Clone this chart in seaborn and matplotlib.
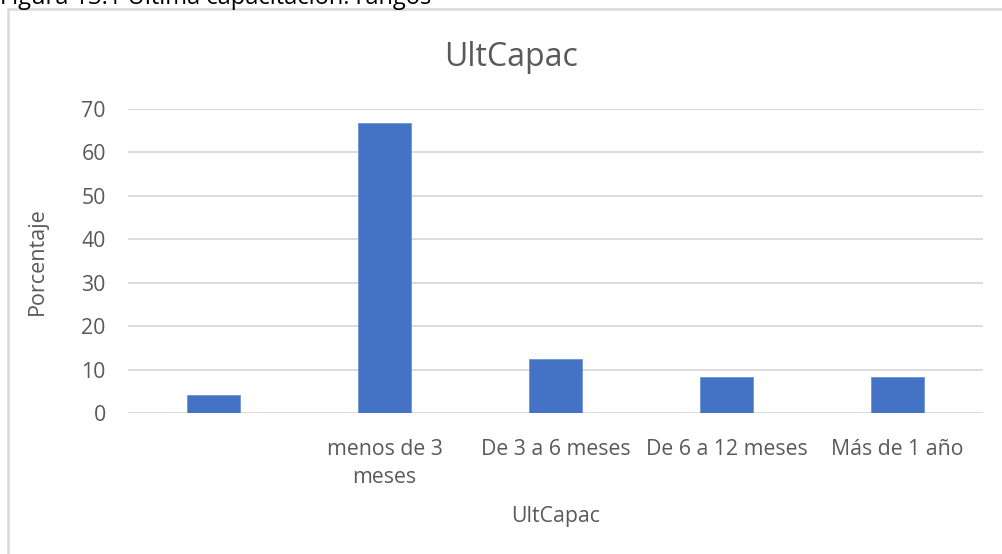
import pandas as pd
import seaborn as sns
import matplotlib.pyplot as plt
from matplotlib.patches import Rectangle

# ── Data ─────────────────────────────────────────────
categorias = ["", "menos de 3\nmeses", "De 3 a 6 meses", "De 6 a 12 meses", "Más de 1 año"]
porcentaje = [4.17, 66.67, 12.5, 8.33, 8.33]
y_ticks = [0, 10, 20, 30, 40, 50, 60, 70]

df = pd.DataFrame({"UltCapac": categorias, "Porcentaje": porcentaje})

sns.set_theme(style="white")
plt.rcParams["font.family"] = ["Open Sans", "DejaVu Sans"]

TXT = "#595959"
GRID = "#d9d9d9"
BAR = "#4472C4"

fig = plt.figure(figsize=(10.02, 5.54), dpi=100)
ax = fig.add_axes([128 / 1002, 1 - 413 / 554, (983 - 128) / 1002, (413 - 109) / 554])

sns.barplot(data=df, x="UltCapac", y="Porcentaje", color=BAR, width=0.31,
            saturation=1, edgecolor="#6f93d6", linewidth=0.6, ax=ax, zorder=3)

ax.set_ylim(0, 70)
ax.set_yticks(y_ticks)
ax.yaxis.grid(True, color=GRID, linewidth=1.3, zorder=0)
for s in ax.spines.values():
    s.set_visible(False)
ax.tick_params(axis="both", length=0, labelsize=15.3, colors=TXT)
ax.tick_params(axis="y", pad=16)
ax.tick_params(axis="x", pad=19)
ax.set_xlabel("UltCapac", fontsize=15.3, color=TXT, labelpad=13)
ax.set_ylabel("Porcentaje", fontsize=15.5, color=TXT, labelpad=24)
for lbl in ax.get_xticklabels():
    lbl.set_linespacing(1.4)

fig.text(511 / 1002, 1 - 58 / 554, "UltCapac", ha="center", va="center",
         fontsize=23, color=TXT)

# outer chart frame (continues past the image edge)
fig.patches.append(Rectangle((8 / 1002, -0.1), 1.2, 1 - 9 / 554 + 0.1,
                             transform=fig.transFigure, fill=False,
                             edgecolor=GRID, linewidth=1.8))

# caption clipped at the top
fig.text(0.0, 1 - 4 / 554, "Figura 13.1 Última capacitación: rangos",
         ha="left", va="baseline", fontsize=17, color="black")

fig.savefig("out.png", dpi=100)
